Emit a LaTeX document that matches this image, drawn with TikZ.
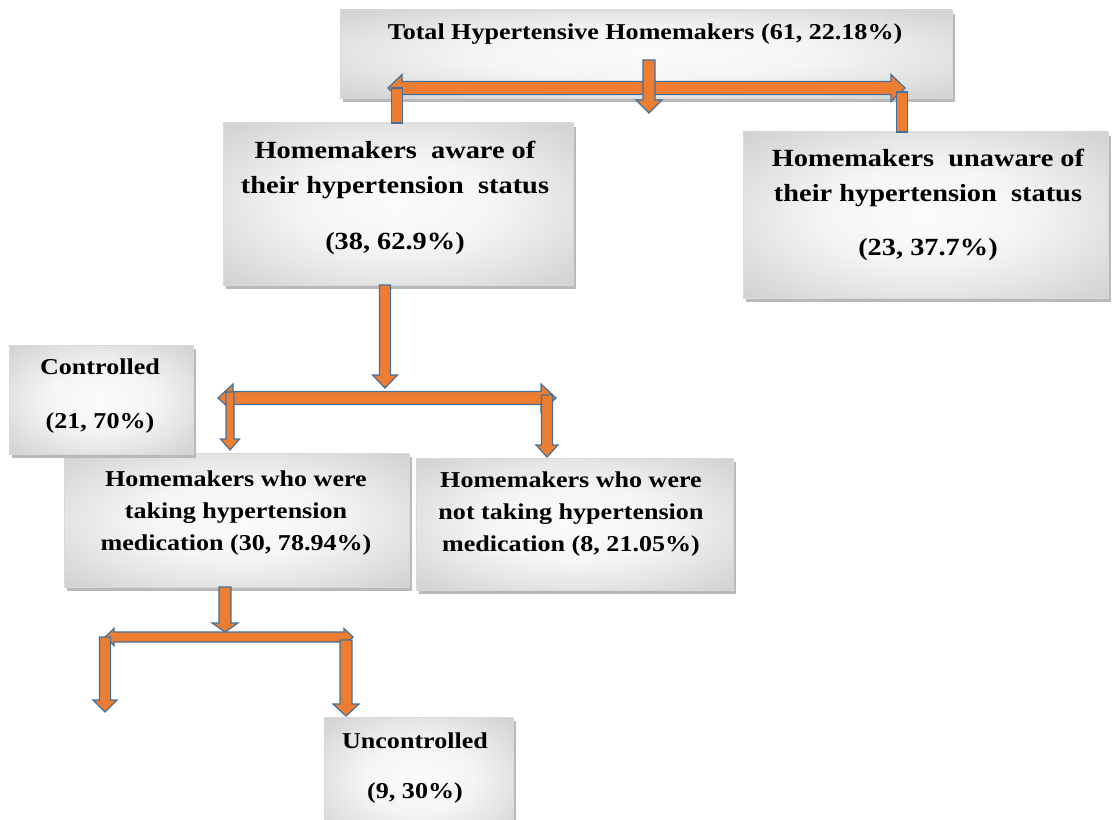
\documentclass[tikz,border=0pt]{standalone}
\usepackage{fontspec}
\newfontfamily\bxf{Liberation Serif}[FakeStretch=1.15]
\usetikzlibrary{fit,shadows}
\definecolor{arrowfill}{HTML}{ED7D31}
\definecolor{arrowline}{HTML}{41719C}
\pgfdeclareradialshading{boxshade}{\pgfpoint{0bp}{0bp}}{%
  color(0bp)=(gray!3); color(14bp)=(gray!8); color(25bp)=(gray!22);
  color(35bp)=(gray!36); color(50bp)=(gray!36)}
\tikzset{
  pbox/.style={inner sep=0pt, draw=gray!30, line width=0.5pt,
    shading=boxshade,
    drop shadow={shadow xshift=2.5pt, shadow yshift=-3pt, fill=gray!55, opacity=1}},
  ptext/.style={font=\bxf\bfseries, align=center, inner sep=0pt, text=black},
  blockarrow/.style={fill=arrowfill, draw=arrowline, line width=0.9pt, line join=miter}
}
% x, ytop, ytip, shaft width, head width, head length
\newcommand\myDownArrow[6]{%
  \filldraw[blockarrow] ({#1-#4/2},#2) -- ({#1+#4/2},#2) -- ({#1+#4/2},{#3-#6})
   -- ({#1+#5/2},{#3-#6}) -- (#1,#3) -- ({#1-#5/2},{#3-#6}) -- ({#1-#4/2},{#3-#6}) -- cycle;}
% y, xleft, xright, shaft width, head width, head length
\newcommand\myDoubleArrow[6]{%
  \filldraw[blockarrow] (#2,#1) -- ({#2+#6},{#1-#5/2}) -- ({#2+#6},{#1-#4/2})
   -- ({#3-#6},{#1-#4/2}) -- ({#3-#6},{#1-#5/2}) -- (#3,#1) -- ({#3-#6},{#1+#5/2})
   -- ({#3-#6},{#1+#4/2}) -- ({#2+#6},{#1+#4/2}) -- ({#2+#6},{#1+#5/2}) -- cycle;}
% x, ytop, ybottom, width
\newcommand\myStem[4]{%
  \filldraw[blockarrow] ({#1-#4/2},#2) rectangle ({#1+#4/2},#3);}
\begin{document}
\begin{tikzpicture}[x=0.75pt,y=-0.75pt]
\useasboundingbox (0,0) rectangle (1113,820);
% boxes
\node[pbox, fit={(340,10) (952,98)}] (top) {};
\node[pbox, fit={(223,123) (573,285)}] (aware) {};
\node[pbox, fit={(743,132) (1108,298)}] (unaware) {};
\node[pbox, fit={(64,453) (409,587)}] (taking) {};
\node[pbox, fit={(9,345) (193,454)}] (controlled) {};
\node[pbox, fit={(416,458) (733,590)}] (nottaking) {};
\node[pbox, fit={(324,717) (513,840)}] (uncontrolled) {};
% texts
\node[ptext, font=\bxf\bfseries\fontsize{17}{22}\selectfont] (ttop) at (645,34) {Total Hypertensive Homemakers (61, 22.18\%)};
\node[ptext, font=\bxf\bfseries\fontsize{18.5}{26}\selectfont] (taware) at (395,198)
  {Homemakers\ \ aware of\\ their hypertension\ \ status\\[16pt] (38, 62.9\%)};
\node[ptext, font=\bxf\bfseries\fontsize{18.5}{26}\selectfont] (tunaware) at (928,205)
  {Homemakers\ \ unaware of\\ their hypertension\ \ status\\[15pt] (23, 37.7\%)};
\node[ptext, font=\bxf\bfseries\fontsize{17}{24}\selectfont] (tcontrolled) at (100,396)
  {Controlled\\[16.5pt] (21, 70\%)};
\node[ptext, font=\bxf\bfseries\fontsize{17}{24}\selectfont] (ttaking) at (236,513)
  {Homemakers who were\\ taking hypertension\\ medication (30, 78.94\%)};
\node[ptext, font=\bxf\bfseries\fontsize{17}{24}\selectfont] (tnottaking) at (571,514)
  {Homemakers who were\\ not taking hypertension\\ medication (8, 21.05\%)};
\node[ptext, font=\bxf\bfseries\fontsize{17}{24}\selectfont] (tuncontrolled) at (415,768)
  {Uncontrolled\\[13.5pt] (9, 30\%)};
% top split
\myDoubleArrow{88}{388}{905}{13}{27}{14}
\myStem{397}{88}{123}{11}
\myStem{902}{92}{132}{11}
\myDownArrow{649}{60}{113}{12}{26}{13}
% middle split
\myDownArrow{385}{285}{388}{11}{25}{13}
\myDoubleArrow{398}{218}{556}{13}{28}{15}
\myDownArrow{230}{392}{450}{8}{19}{11}
\myDownArrow{547}{395}{457}{11}{22}{12}
% bottom split
\myDownArrow{225}{587}{632}{12}{26}{9}
\myDoubleArrow{637}{105}{353}{10}{17}{9}
\myDownArrow{105}{637}{712}{11}{24}{12}
\myDownArrow{346}{640}{716}{12}{26}{12}
\end{tikzpicture}
\end{document}
